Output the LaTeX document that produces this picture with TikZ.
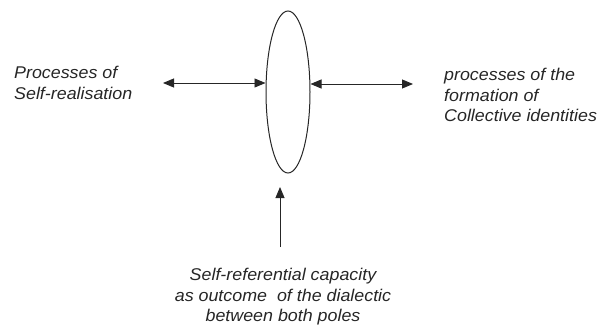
\documentclass[tikz,border=0pt]{standalone}
\usepackage{fontspec}
\setmainfont[FakeStretch=1.05]{Liberation Sans}
\usetikzlibrary{arrows.meta,shapes.geometric}
\tikzset{
  lbl/.style={inner sep=0pt, font=\fontsize{17}{20.5}\selectfont\itshape, text=black!85},
  tipshape/.style={},
  conn/.style={line width=0.9pt, draw=black!85, {Triangle[length=11pt,width=9pt]}-{Triangle[length=11pt,width=9pt]}},
  oneway/.style={line width=0.9pt, draw=black!85, -{Triangle[length=11pt,width=9pt]}},
  pole/.style={draw=black!85, line width=1pt, ellipse, minimum width=44pt, minimum height=162pt, inner sep=0pt}
}
\begin{document}
\begin{tikzpicture}[x=1pt,y=-1pt]
\useasboundingbox (0,0) rectangle (603,329);
\node[pole] (ell) at (288,92) {};
\node[lbl, anchor=west, align=left] (left) at (14,83) {Processes of\\Self-realisation};
\node[lbl, anchor=west, align=left] (right) at (444,95) {processes of the\\formation of\\Collective identities};
\node[lbl, align=center] (bottom) at (283,297) {Self-referential capacity\\as outcome\ \ of the dialectic\\between both poles};
\coordinate (lt) at (163,83);
\coordinate (rt) at (413,84);
\coordinate (btail) at (280,247);
\coordinate (bhead) at (280,187);
\draw[conn] (lt) -- (ell.west |- lt);
\draw[conn] (ell.east |- rt) -- (rt);
\draw[oneway] (btail) -- (bhead);
\end{tikzpicture}
\end{document}
